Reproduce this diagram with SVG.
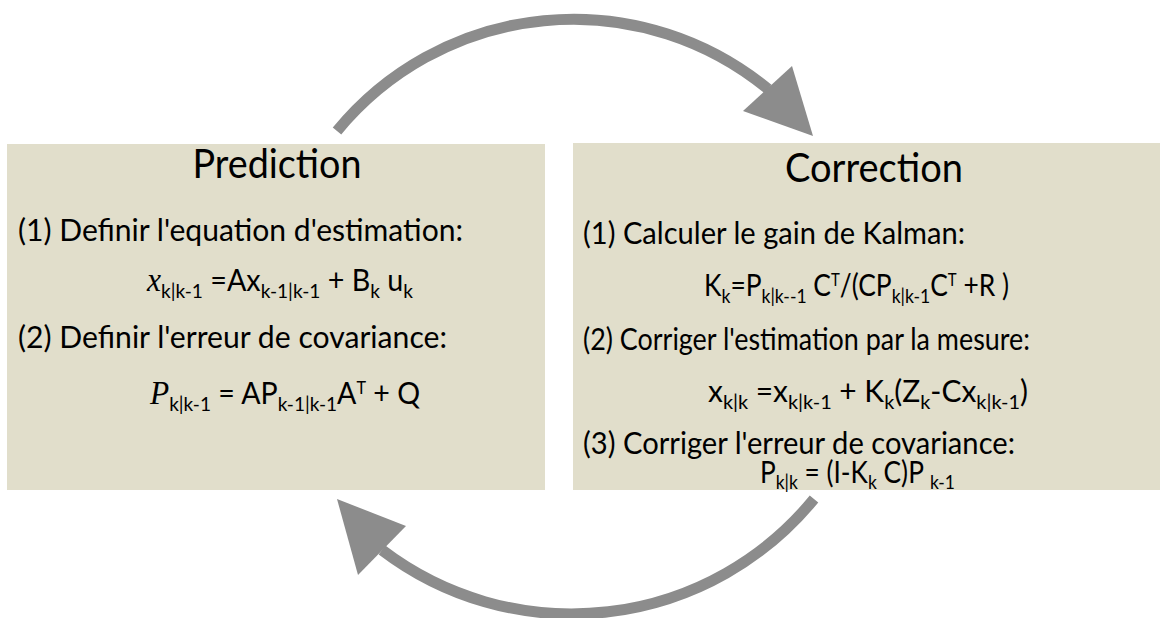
<svg xmlns="http://www.w3.org/2000/svg" width="1167" height="618" viewBox="0 0 1167 618">
<style>
.box{fill:#e1decb}
.t{font-family:Lato,"Open Sans",sans-serif;fill:#000}
.title{font-size:41px}
.line{font-size:30px}
.eq{font-size:30px}
.sub{font-size:20px}
.sup{font-size:17px}
.it{font-family:"Liberation Serif",serif;font-style:italic;font-size:33px}
.arc{fill:none;stroke:#8c8c8c;stroke-width:11}
.head{fill:#8c8c8c}
</style>
<rect width="1167" height="618" fill="#fff"/>
<g id="prediction">
<rect class="box" x="7" y="144" width="538" height="346"/>
<text class="t title" x="277" y="178" text-anchor="middle" textLength="169" lengthAdjust="spacingAndGlyphs">Prediction</text>
<text class="t line" x="18" y="241" textLength="445" lengthAdjust="spacingAndGlyphs">(1) Definir l'equation d'estimation:</text>
<text class="t eq" x="147" y="291" textLength="266" lengthAdjust="spacingAndGlyphs"><tspan class="it">x</tspan><tspan class="sub" dy="7">k|k-1</tspan><tspan dy="-7"> =Ax</tspan><tspan class="sub" dy="7">k-1|k-1</tspan><tspan dy="-7"> + B</tspan><tspan class="sub" dy="7">k</tspan><tspan dy="-7"> u</tspan><tspan class="sub" dy="7">k</tspan></text>
<text class="t line" x="18" y="348" textLength="429" lengthAdjust="spacingAndGlyphs">(2) Definir l'erreur de covariance:</text>
<text class="t eq" x="150" y="404" textLength="270" lengthAdjust="spacingAndGlyphs"><tspan class="it">P</tspan><tspan class="sub" dy="7">k|k-1</tspan><tspan dy="-7"> = AP</tspan><tspan class="sub" dy="7">k-1|k-1</tspan><tspan dy="-7">A</tspan><tspan class="sup" dy="-10">T</tspan><tspan dy="10"> + Q</tspan></text>
</g>
<g id="correction">
<rect class="box" x="573" y="143" width="587" height="347"/>
<text class="t title" x="874" y="182" text-anchor="middle" textLength="178" lengthAdjust="spacingAndGlyphs">Correction</text>
<text class="t line" x="583" y="244" textLength="382" lengthAdjust="spacingAndGlyphs">(1) Calculer le gain de Kalman:</text>
<text class="t eq" x="704" y="296" textLength="305" lengthAdjust="spacingAndGlyphs">K<tspan class="sub" dy="7">k</tspan><tspan dy="-7">=P</tspan><tspan class="sub" dy="7">k|k--1</tspan><tspan dy="-7"> C</tspan><tspan class="sup" dy="-10">T</tspan><tspan dy="10">/(CP</tspan><tspan class="sub" dy="7">k|k-1</tspan><tspan dy="-7">C</tspan><tspan class="sup" dy="-10">T</tspan><tspan dy="10"> +R )</tspan></text>
<text class="t line" x="583" y="350" textLength="447" lengthAdjust="spacingAndGlyphs">(2) Corriger l'estimation par la mesure:</text>
<text class="t eq" x="708" y="402" textLength="320" lengthAdjust="spacingAndGlyphs">x<tspan class="sub" dy="7">k|k</tspan><tspan dy="-7"> =x</tspan><tspan class="sub" dy="7">k|k-1</tspan><tspan dy="-7"> + K</tspan><tspan class="sub" dy="7">k</tspan><tspan dy="-7">(Z</tspan><tspan class="sub" dy="7">k</tspan><tspan dy="-7">-Cx</tspan><tspan class="sub" dy="7">k|k-1</tspan><tspan dy="-7">)</tspan></text>
<text class="t line" x="583" y="454" textLength="432" lengthAdjust="spacingAndGlyphs">(3) Corriger l'erreur de covariance:</text>
<text class="t eq" x="760" y="483" textLength="195" lengthAdjust="spacingAndGlyphs">P<tspan class="sub" dy="6">k|k</tspan><tspan dy="-6"> = (I-K</tspan><tspan class="sub" dy="6">k</tspan><tspan dy="-6"> C)P </tspan><tspan class="sub" dy="6">k-1</tspan></text>
</g>
<g id="connectors">
<path class="arc" d="M337,131 A306,306 0 0 1 768,89"/>
<polygon class="head" points="743,111 792,66 813,136"/>
<path class="arc" d="M814,499 A313,313 0 0 1 382,550"/>
<polygon class="head" points="406,526 358,575 337,499"/>
</g>
</svg>
